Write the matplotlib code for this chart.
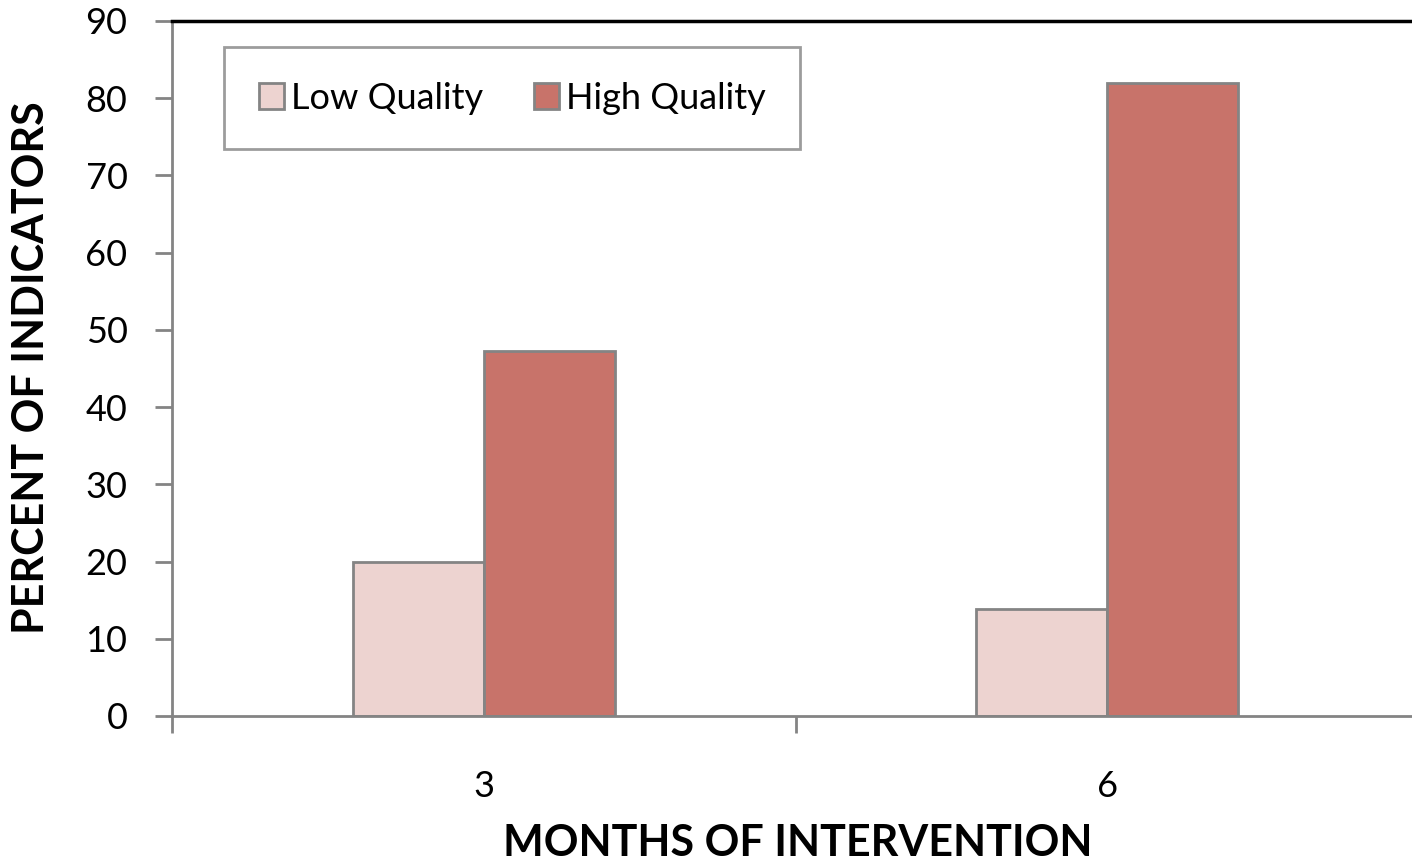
from matplotlib import pyplot as plt
import numpy as np

# chart data
months = ['3', '6']
low_quality = [20, 13.8]
high_quality = [47.2, 82]

plt.rcParams['font.family'] = ['Lato', 'DejaVu Sans']

fig = plt.figure(figsize=(14.12, 8.67), dpi=100)
ax = fig.add_axes([0.1218, 0.1742, 0.8782 + 0.005, 0.8016])

grey = '#848484'
x = np.arange(len(months)) + 0.5
w = 0.21
ax.bar(x - w / 2, low_quality, w, color='#EDD3D0', edgecolor=grey, linewidth=2,
       label='Low Quality')
ax.bar(x + w / 2, high_quality, w, color='#C8736A', edgecolor=grey, linewidth=2,
       label='High Quality')

ax.set_xlim(0, 2)
ax.set_ylim(0, 90)
ax.set_yticks(range(0, 91, 10))
ax.set_xticks([0, 1, 2])
ax.set_xticklabels(['', '', ''])
ax.set_xticks(x, minor=True)
ax.set_xticklabels(months, minor=True)
ax.tick_params(axis='x', which='minor', length=0, pad=39, labelsize=26)
ax.tick_params(axis='x', which='major', length=12, width=2, color=grey)
ax.tick_params(axis='y', length=12, width=2, color=grey, labelsize=26, pad=20)

ax.spines['left'].set_color(grey)
ax.spines['left'].set_linewidth(2)
ax.spines['bottom'].set_color(grey)
ax.spines['bottom'].set_linewidth(2)
ax.spines['top'].set_color('black')
ax.spines['top'].set_linewidth(2.5)
ax.spines['right'].set_visible(False)

# axis titles placed in figure coords
fig.text(798 / 1412, 1 - 843 / 867, 'MONTHS OF INTERVENTION', fontsize=31,
         fontweight='bold', ha='center', va='center')
fig.text(31 / 1412, 1 - 368 / 867, 'PERCENT OF INDICATORS', fontsize=31,
         fontweight='bold', ha='center', va='center', rotation=90)

leg = ax.legend(loc='upper left', bbox_to_anchor=(0.042, 0.962), ncol=2,
                fontsize=26, frameon=True, fancybox=False, handlelength=0.7,
                handleheight=0.7, handletextpad=0.2, columnspacing=1.4,
                borderpad=0.95, borderaxespad=0)
leg.get_frame().set_edgecolor(grey)
leg.get_frame().set_linewidth(2)

plt.savefig('out.png', dpi=100)
